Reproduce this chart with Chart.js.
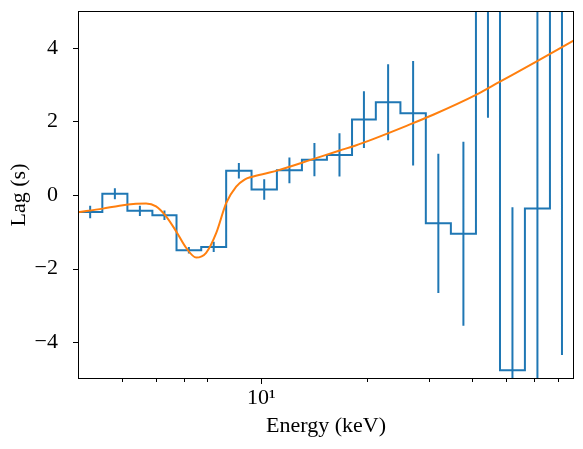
<!DOCTYPE html>
<html>
<head>
<meta charset="utf-8">
<script src="https://cdn.jsdelivr.net/npm/chart.js@4"></script>
<style>
	html, body { margin: 0; padding: 0; background: #fff; }
	canvas { display: block; }
</style>
</head>
<body>
<canvas id="lag" width="583" height="449"></canvas>
<script>
// bin edges (keV) of the lag-energy spectrum
var binEdges = [ 3.0, 3.52, 4.15, 4.89, 5.73, 6.74, 7.94, 9.38, 11.08, 13.06, 15.39,
	18.15, 21.22, 24.94, 29.47, 34.74, 40.96, 47.97, 56.5, 66.6, 78.0 ];
var lagValues = [ -0.46, 0.035, -0.43, -0.55, -1.50, -1.41, 0.66, 0.15, 0.67, 0.96,
	1.09, 2.05, 2.52, 2.22, -0.77, -1.05, 7.3, -4.76, -0.37, 6.2 ];
var lagErrors = [ 0.17, 0.15, 0.14, 0.13, 0.09, 0.14, 0.21, 0.28, 0.35, 0.45,
	0.59, 0.77, 1.03, 1.42, 1.89, 2.50, 5.2, 4.43, 6.5, 10.55 ];

// model curve
var modelEnergy = [ 3.0, 3.53, 3.94, 4.39, 4.69, 5.01, 5.35, 5.72, 6.11, 6.52, 6.96,
	7.44, 7.94, 8.48, 8.96, 9.36, 10.56, 11.15, 13.9, 16.74, 18.5, 20.84, 25.96,
	30.93, 40.96, 47.97, 61.07, 78.0 ];
var modelLag = [ -0.47, -0.37, -0.29, -0.24, -0.23, -0.31, -0.58, -0.99, -1.44, -1.70,
	-1.57, -1.03, -0.22, 0.23, 0.42, 0.49, 0.61, 0.67, 0.96, 1.21, 1.34, 1.52, 1.88,
	2.18, 2.72, 3.08, 3.63, 4.20 ];

var xTicks = [ 4, 5, 6, 7, 10, 20, 30, 40, 50, 60, 70 ];
var xMajor = [ 10 ];
var yTicks = [ -4, -2, 0, 2, 4 ];

var BLUE = '#1f77b4';
var ORANGE = '#ff7f0e';
var FONT = '"Liberation Serif", "DejaVu Serif", serif';

( function () {
	'use strict';

	var stepPts = binEdges.map( function ( e, i ) {
		return { x: e, y: lagValues[ Math.min( i, lagValues.length - 1 ) ] };
	} );

	var errPts = [];
	lagValues.forEach( function ( v, i ) {
		var c = Math.sqrt( binEdges[ i ] * binEdges[ i + 1 ] );
		errPts.push( { x: c, y: v - lagErrors[ i ] } );
		errPts.push( { x: c, y: v + lagErrors[ i ] } );
		errPts.push( { x: c, y: null } );
	} );

	var modelPts = modelEnergy.map( function ( e, i ) {
		return { x: e, y: modelLag[ i ] };
	} );

	// axes frame + tick marks, matplotlib style
	var framePlugin = {
		id: 'frame',
		afterDraw: function ( chart ) {
			var ctx = chart.ctx;
			var a = chart.chartArea;
			var sx = chart.scales.x;
			var sy = chart.scales.y;
			ctx.save();
			ctx.strokeStyle = '#000';
			ctx.lineWidth = 1;
			ctx.strokeRect( a.left + 0.5, a.top + 0.5, a.right - a.left - 1, a.bottom - a.top - 1 );
			ctx.beginPath();
			yTicks.forEach( function ( v ) {
				var py = Math.round( sy.getPixelForValue( v ) ) + 0.5;
				ctx.moveTo( a.left - 5, py );
				ctx.lineTo( a.left, py );
			} );
			xTicks.forEach( function ( v ) {
				var px = Math.round( sx.getPixelForValue( v ) ) + 0.5;
				var len = xMajor.indexOf( v ) >= 0 ? 5 : 3;
				ctx.moveTo( px, a.bottom );
				ctx.lineTo( px, a.bottom + len );
			} );
			ctx.stroke();
			ctx.restore();
		},
	};

	new Chart( document.getElementById( 'lag' ), {
		type: 'line',
		data: {
			datasets: [
				{
					label: 'model',
					data: modelPts,
					borderColor: ORANGE,
					borderWidth: 2,
					pointRadius: 0,
					cubicInterpolationMode: 'monotone',
					clip: 0,
				},
				{
					label: 'lag',
					data: stepPts,
					borderColor: BLUE,
					borderWidth: 2,
					pointRadius: 0,
					stepped: 'before',
					clip: 0,
				},
				{
					label: 'err',
					data: errPts,
					borderColor: BLUE,
					borderWidth: 2,
					pointRadius: 0,
					spanGaps: false,
					clip: 0,
				},
			],
		},
		options: {
			responsive: false,
			animation: false,
			events: [],
			layout: {
				padding: { top: 11, right: 9, left: 0, bottom: 0 },
			},
			plugins: {
				legend: { display: false },
				tooltip: { enabled: false },
			},
			scales: {
				x: {
					type: 'logarithmic',
					min: 3,
					max: 78,
					afterBuildTicks: function ( scale ) {
						scale.ticks = xTicks.map( function ( v ) {
							return { value: v, major: xMajor.indexOf( v ) >= 0 };
						} );
					},
					afterFit: function ( scale ) {
						scale.height = 70;
						scale.paddingLeft = 0;
						scale.paddingRight = 0;
					},
					grid: { display: false, drawTicks: false },
					border: { display: false },
					ticks: {
						autoSkip: false,
						maxRotation: 0,
						padding: 6,
						color: '#000',
						font: { family: FONT, size: 22 },
						callback: function ( value ) {
							return value === 10 ? '10\u00b9' : '';
						},
					},
					title: {
						display: true,
						text: 'Energy (keV)',
						color: '#000',
						font: { family: FONT, size: 22 },
						padding: { top: 0, bottom: 10 },
					},
				},
				y: {
					min: -5,
					max: 5,
					afterBuildTicks: function ( scale ) {
						scale.ticks = yTicks.map( function ( v ) {
							return { value: v };
						} );
					},
					afterFit: function ( scale ) {
						scale.width = 78;
						scale.paddingTop = 0;
						scale.paddingBottom = 0;
					},
					grid: { display: false, drawTicks: false },
					border: { display: false },
					ticks: {
						padding: 20,
						color: '#000',
						font: { family: FONT, size: 22 },
						callback: function ( value ) {
							return value < 0 ? '\u2212' + Math.abs( value ) : String( value );
						},
					},
					title: {
						display: true,
						text: 'Lag (s)',
						color: '#000',
						font: { family: FONT, size: 22 },
						padding: { top: 6, bottom: 0 },
					},
				},
			},
		},
		plugins: [ framePlugin ],
	} );
} )();
</script>
</body>
</html>
